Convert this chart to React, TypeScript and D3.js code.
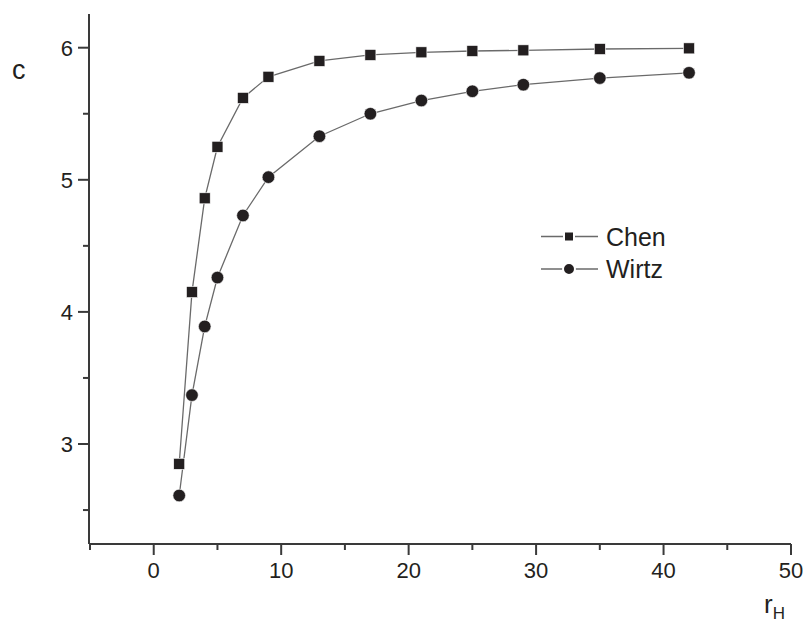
import React from "react";
import * as d3 from "d3";

const rH = [2, 3, 4, 5, 7, 9, 13, 17, 21, 25, 29, 35, 42];
const chen = [2.85, 4.15, 4.86, 5.25, 5.62, 5.78, 5.9, 5.945, 5.965, 5.975, 5.98, 5.99, 5.995];
const wirtz = [2.61, 3.37, 3.89, 4.26, 4.73, 5.02, 5.33, 5.5, 5.6, 5.67, 5.72, 5.77, 5.81];
const xMajor = [0, 10, 20, 30, 40, 50];
const xMinor = [-5, 5, 15, 25, 35, 45];
const yMajor = [3, 4, 5, 6];
const yMinor = [2.5, 3.5, 4.5, 5.5];
const seriesNames = ["Chen", "Wirtz"];

const W = 803;
const H = 622;
const FONT = "'Liberation Sans', Arial, Helvetica, sans-serif";
const INK = "#231f20";
const AXIS = "#3a3a3a";
const LINE = "#6a6a6a";

export default function App() {
  const x = d3.scaleLinear().domain([-5, 50]).range([90, 791]);
  const y = d3.scaleLinear().domain([3, 6]).range([444, 47.7]);
  const axisY = 544;
  const axisX = 89;
  const axisTop = 14;

  const line = d3
    .line<number>()
    .x((_, i) => x(rH[i]))
    .y((d) => y(d));

  const legend = [
    { name: seriesNames[0], cy: 236.5, shape: "square" },
    { name: seriesNames[1], cy: 269, shape: "circle" },
  ];

  return (
    <svg
      width={W}
      height={H}
      style={{ position: "absolute", left: 0, top: 0, background: "#fff" }}
      fontFamily={FONT}
    >
      <rect width={W} height={H} fill="#fff" />
      {/* axes */}
      <line x1={axisX} x2={axisX} y1={axisTop} y2={axisY} stroke={AXIS} strokeWidth={2} />
      <line x1={axisX} x2={x(50)} y1={axisY} y2={axisY} stroke={AXIS} strokeWidth={2} />
      {xMajor.map((v) => (
        <g key={"xm" + v}>
          <line x1={x(v)} x2={x(v)} y1={axisY} y2={axisY + 11} stroke={AXIS} strokeWidth={2} />
          <text x={x(v)} y={578} textAnchor="middle" fontSize={22} fill={INK}>
            {v}
          </text>
        </g>
      ))}
      {xMinor.map((v) => (
        <line key={"xn" + v} x1={x(v)} x2={x(v)} y1={axisY} y2={axisY + 6} stroke={AXIS} strokeWidth={2} />
      ))}
      {yMajor.map((v) => (
        <g key={"ym" + v}>
          <line x1={axisX - 11} x2={axisX} y1={y(v)} y2={y(v)} stroke={AXIS} strokeWidth={2} />
          <text x={73} y={y(v) + 8} textAnchor="end" fontSize={22} fill={INK}>
            {v}
          </text>
        </g>
      ))}
      {yMinor.map((v) => (
        <line key={"yn" + v} x1={axisX - 6} x2={axisX} y1={y(v)} y2={y(v)} stroke={AXIS} strokeWidth={2} />
      ))}
      {/* axis labels */}
      <text x={12} y={79} fontSize={27} fill={INK}>
        c
      </text>
      <text x={764} y={613} fontSize={26} fill={INK}>
        r
        <tspan fontSize={17} dy={6}>
          H
        </tspan>
      </text>
      {/* series */}
      <path d={line(chen) || ""} fill="none" stroke={LINE} strokeWidth={1.3} />
      <path d={line(wirtz) || ""} fill="none" stroke={LINE} strokeWidth={1.3} />
      {chen.map((v, i) => (
        <rect
          key={"c" + i}
          x={x(rH[i]) - 5.5}
          y={y(v) - 5.5}
          width={11}
          height={11}
          fill={INK}
          stroke="#fff"
          strokeWidth={0.6}
        />
      ))}
      {wirtz.map((v, i) => (
        <circle key={"w" + i} cx={x(rH[i])} cy={y(v)} r={6.3} fill={INK} stroke="#fff" strokeWidth={0.6} />
      ))}
      {/* legend */}
      {legend.map((l) => (
        <g key={l.name}>
          <line x1={541} x2={598} y1={l.cy} y2={l.cy} stroke={LINE} strokeWidth={1.3} />
          {l.shape === "square" ? (
            <rect x={569 - 5} y={l.cy - 5} width={10} height={10} fill={INK} stroke="#fff" strokeWidth={2} />
          ) : (
            <circle cx={569} cy={l.cy} r={6} fill={INK} stroke="#fff" strokeWidth={2} />
          )}
          <text x={606} y={l.cy + 9} fontSize={25} fill={INK}>
            {l.name}
          </text>
        </g>
      ))}
    </svg>
  );
}
